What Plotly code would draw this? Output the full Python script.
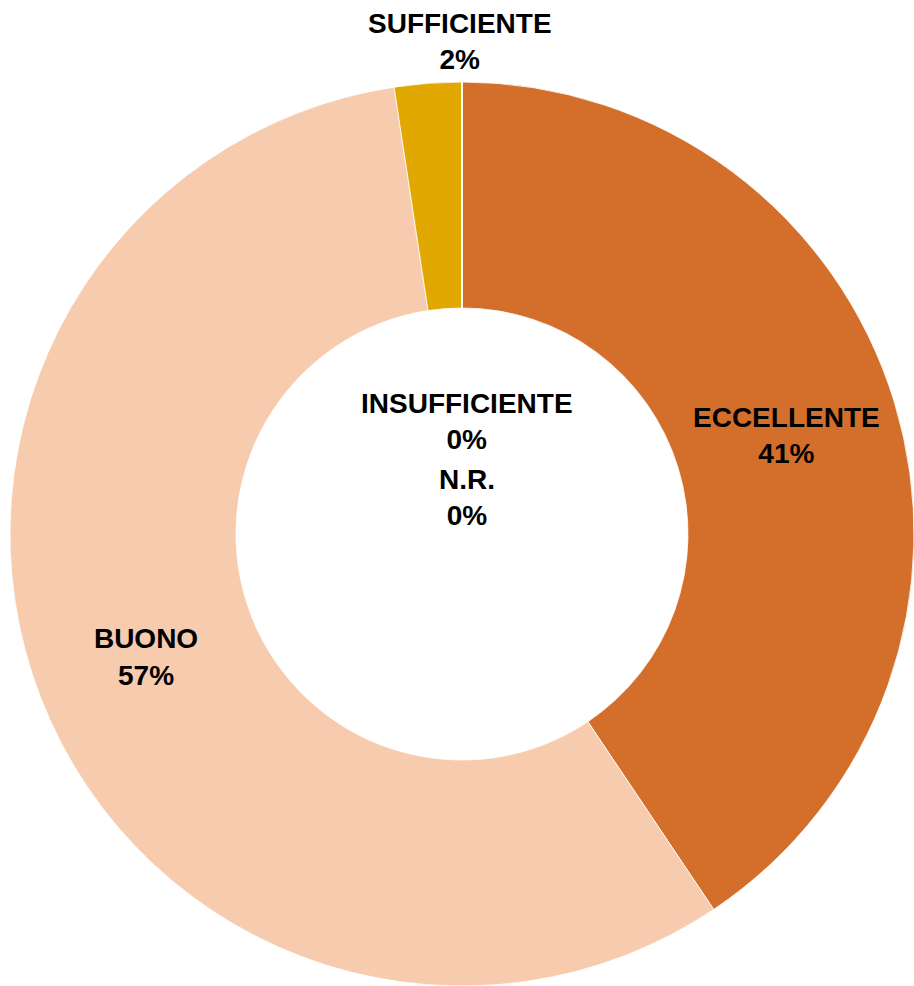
import plotly.graph_objects as go

categories = ["ECCELLENTE", "BUONO", "SUFFICIENTE", "INSUFFICIENTE", "N.R."]
values = [40.6, 57.0, 2.4, 0, 0]
colors = ["#D46E2B", "#F7CBAD", "#E0A800", "#A5A5A5", "#7F7F7F"]
text_positions = ["inside", "inside", "none", "none", "none"]

W, H = 914, 986
ml, mr, mt, mb = 10, 0, 82, 0

font = dict(family="Liberation Sans, Arial, sans-serif", size=28, color="black")

fig = go.Figure(go.Pie(
    labels=categories,
    values=values,
    hole=0.5,
    sort=False,
    direction="clockwise",
    rotation=0,
    marker=dict(colors=colors, line=dict(color="white", width=0.8)),
    textposition=text_positions,
    texttemplate="<b>%{label}<br>%{percent:.0%}</b>",
    insidetextorientation="horizontal",
    insidetextfont=font,
    outsidetextfont=font,
    automargin=False,
    showlegend=False,
    hoverinfo="label+percent",
))

total = sum(values)
# labels drawn as annotations: small slice above the ring, zero slices in the hole
label_spots = {"SUFFICIENTE": (0.498, 1.045), "INSUFFICIENTE": (0.506, 0.625), "N.R.": (0.506, 0.540)}
for c, v in zip(categories, values):
    if c in label_spots:
        x, y = label_spots[c]
        fig.add_annotation(
            x=x, y=y, xref="paper", yref="paper",
            xanchor="center", yanchor="middle",
            text=f"<b>{c}<br>{v / total:.0%}</b>", showarrow=False,
            font=font, align="center",
        )

fig.update_layout(
    width=W, height=H,
    margin=dict(l=ml, r=mr, t=mt, b=mb),
    paper_bgcolor="white", plot_bgcolor="white",
    font=font,
)

fig.write_html(
    "out.html",
    config={"displayModeBar": False},
    post_script="document.body.style.margin='0';document.body.style.overflow='hidden';",
)
